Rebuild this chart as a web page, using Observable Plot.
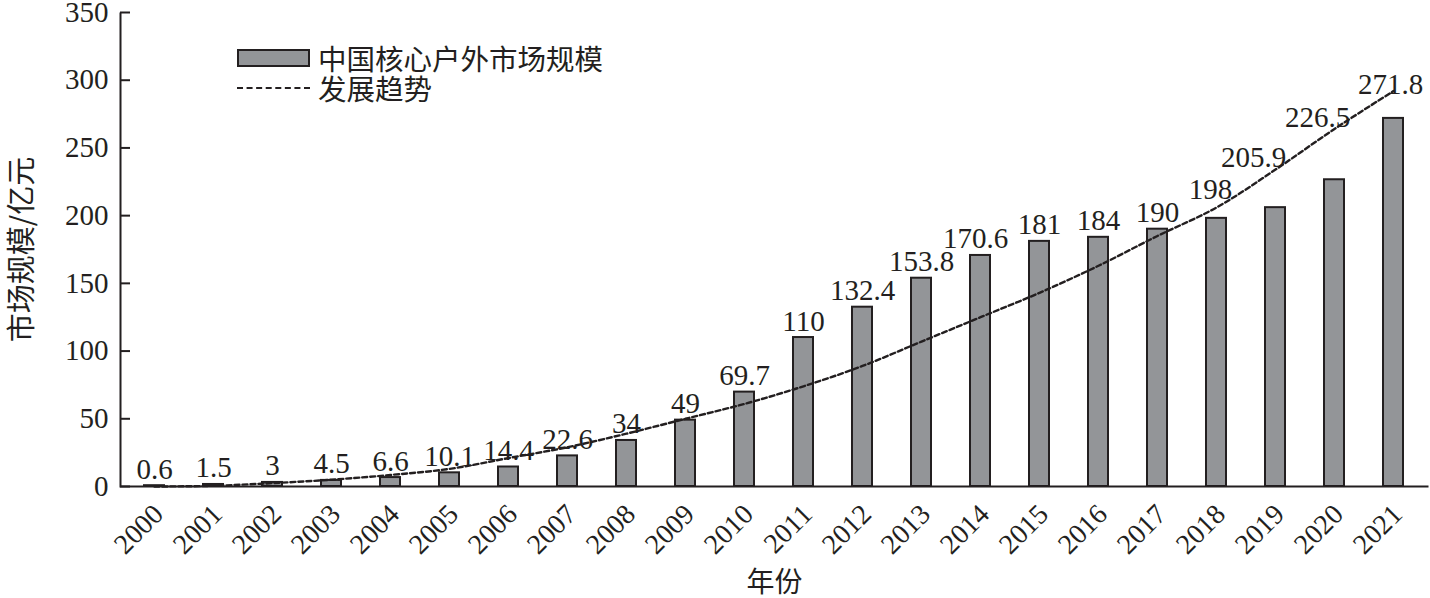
<!DOCTYPE html>
<html>
<head>
<meta charset="utf-8">
<script src="https://cdn.jsdelivr.net/npm/d3@7"></script>
<script src="https://cdn.jsdelivr.net/npm/@observablehq/plot@0.6"></script>
<style>
  html, body { margin: 0; padding: 0; background: #fff; }
  #wrap { position: relative; width: 1430px; height: 598px; }
  .legend { position: absolute; left: 237px; top: 43px; font-family: "Noto Sans CJK SC", sans-serif; font-size: 28.5px; line-height: 30px; color: #231f20; }
  .legend .row { display: flex; align-items: center; height: 30px; }
  .legend .row span { line-height: 30px; display: inline-block; height: 30px; }
  .legend .sw-bar { width: 69px; height: 14px; background: #939598; border: 2px solid #231f20; margin-right: 8px; }
  .legend .sw-line { width: 73px; height: 0; border-top: 2px dashed #231f20; margin-right: 8px; }
</style>
</head>
<body>
<div id="wrap">
  <div id="chart"></div>
  <div class="legend">
    <div class="row"><div class="sw-bar"></div><span>中国核心户外市场规模</span></div>
    <div class="row"><div class="sw-line"></div><span>发展趋势</span></div>
  </div>
</div>
<script>
const years = ["2000","2001","2002","2003","2004","2005","2006","2007","2008","2009","2010","2011","2012","2013","2014","2015","2016","2017","2018","2019","2020","2021"];
const marketSize = [0.6,1.5,3,4.5,6.6,10.1,14.4,22.6,34,49,69.7,110,132.4,153.8,170.6,181,184,190,198,205.9,226.5,271.8];
const trendValues = [0,0.5,2.5,5,8.5,13,21,29,39,50,61,74,89,107,125,143,163,185,206,234,264,292];
const yTicks = [0,50,100,150,200,250,300,350];
const seriesName = "中国核心户外市场规模";
const trendName = "发展趋势";
const xTitle = "年份";
const yTitle = "市场规模/亿元";

const data = years.map((y, i) => ({year: y, value: marketSize[i], trend: trendValues[i]}));

// label nudges as in the original figure (style only)
const shift = {"2014": [-5, 0], "2018": [-6, -12], "2019": [-22, -34], "2020": [-17, -46], "2021": [-3, -17]};

const ink = "#231f20";
const serif = "'Liberation Serif', 'Times New Roman', serif";
const cjk = "'Noto Sans CJK SC', sans-serif";
const W = 1430, H = 598, ML = 120, MR = 2, MT = 12, MB = 112;
const fw = W - ML - MR, fh = H - MT - MB;

const chart = Plot.plot({
  width: W, height: H,
  marginLeft: ML, marginRight: MR, marginTop: MT, marginBottom: MB,
  style: {fontFamily: serif, color: ink, background: "#fff", overflow: "visible"},
  x: {type: "band", domain: years, paddingInner: 0.66, paddingOuter: 0.33, align: 0.5, label: null},
  y: {domain: [0, 350], label: null},
  marks: [
    Plot.barY(data, {x: "year", y: "value", fill: "#939598", stroke: ink, strokeWidth: 2}),
    Plot.line(data, {x: "year", y: "trend", stroke: ink, strokeWidth: 2.4, strokeDasharray: "5,3", curve: "catmull-rom"}),
    ...years.map((yr, i) => Plot.text([data[i]], {
      x: "year", y: "value", text: d => String(d.value),
      lineAnchor: "bottom",
      dx: (shift[yr] || [0, 0])[0],
      dy: -7 + (shift[yr] || [0, 0])[1],
      fontSize: 29, fontFamily: serif, fill: ink
    })),
    // left and bottom axis lines (frame stroke, dashed so only bottom and left sides show)
    Plot.frame({stroke: ink, strokeWidth: 2, strokeDasharray: `0 ${fw + fh} ${fw + fh} 0`}),
    Plot.axisY({ticks: yTicks, tickSize: 0, tickPadding: 12, fontSize: 29, fontFamily: serif, label: null}),
    Plot.tickY(yTicks, {y: d => d, stroke: ink, strokeWidth: 2, insetRight: fw - 10}),
    Plot.axisX({tickSize: 0, tickRotate: -45, tickPadding: 16, dx: 4, dy: 7, fontSize: 28, fontFamily: serif, label: null}),
    Plot.text([xTitle], {text: d => d, frameAnchor: "bottom", lineAnchor: "middle", dy: 97, fontSize: 28, fontFamily: cjk, fill: ink}),
    Plot.text([yTitle], {text: d => d, frameAnchor: "left", textAnchor: "middle", dx: -98, rotate: -90, fontSize: 29, fontFamily: cjk, fill: ink})
  ]
});
document.getElementById("chart").appendChild(chart);
</script>
</body>
</html>
